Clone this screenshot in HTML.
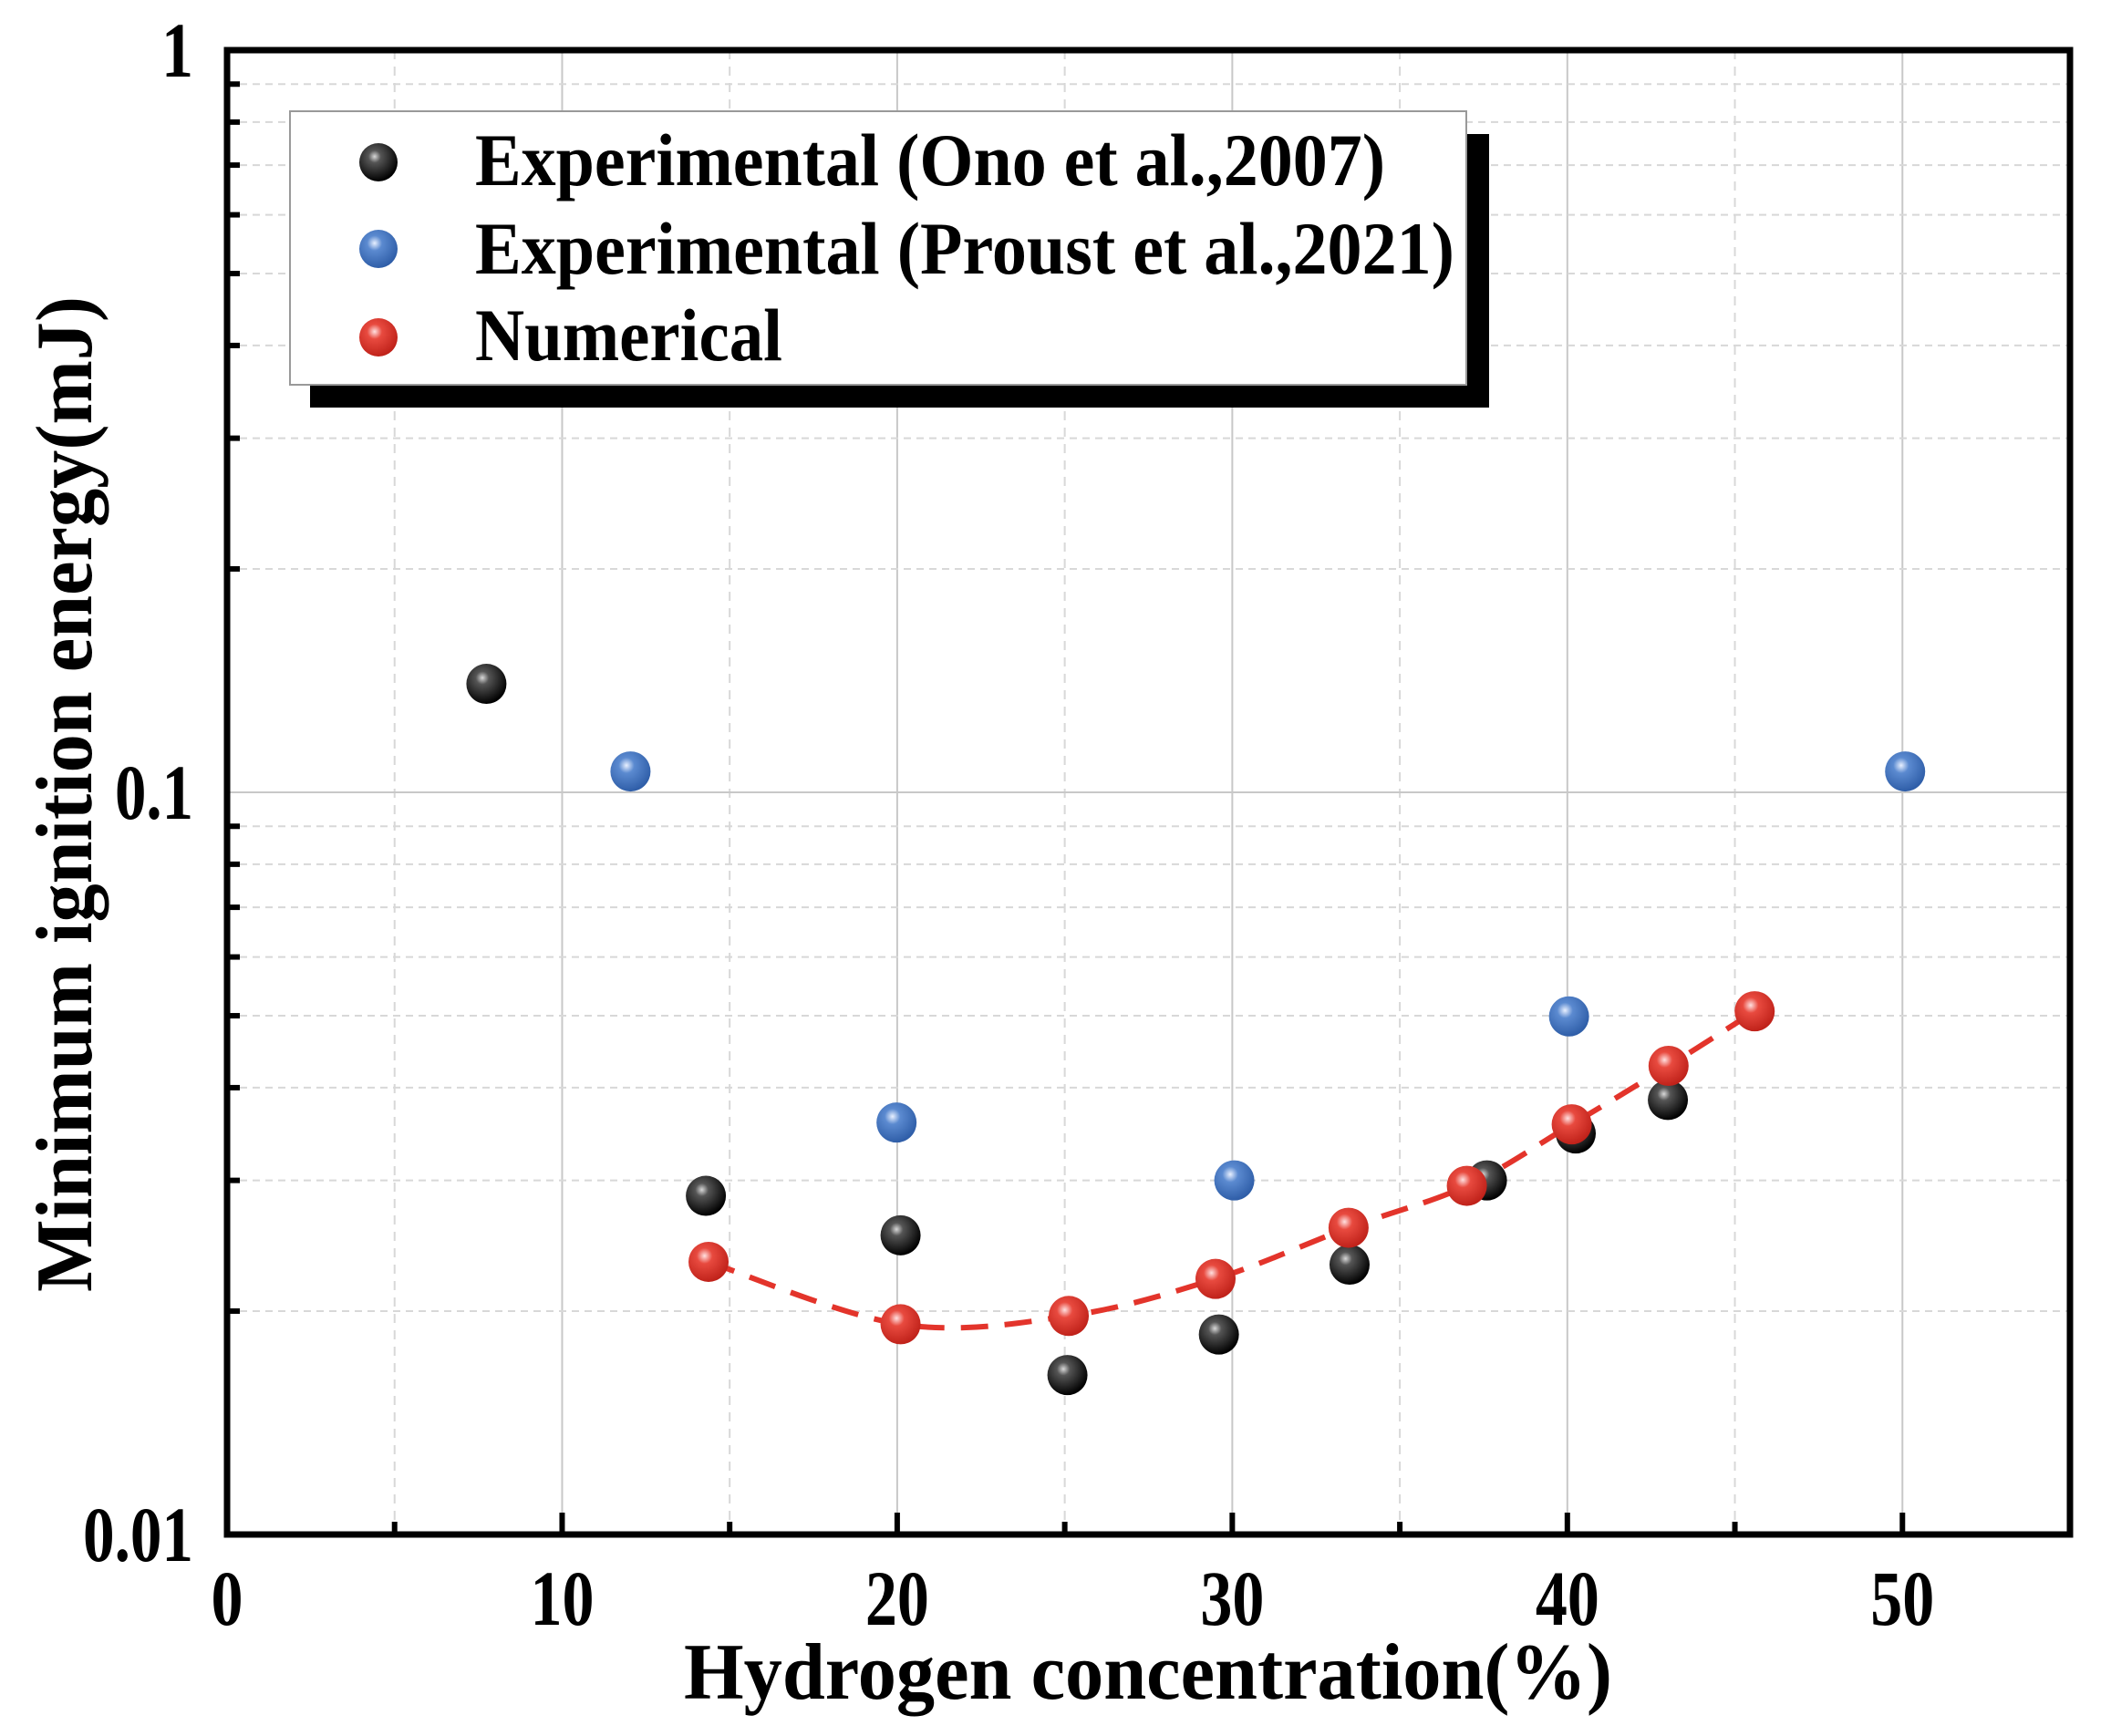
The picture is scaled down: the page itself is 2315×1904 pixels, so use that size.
<!DOCTYPE html>
<html><head><meta charset="utf-8"><style>
html,body{margin:0;padding:0;background:#fff;}
svg{display:block;}
text{font-family:"Liberation Serif","Times New Roman",serif;font-weight:bold;fill:#000;}
</style></head>
<body>
<svg id="chart" width="2315" height="1904" viewBox="0 0 2315 1904" xmlns="http://www.w3.org/2000/svg">
<defs>
<radialGradient id="gBlack" cx="0.4" cy="0.35" r="0.65"><stop offset="0" stop-color="#d8d8d8"/><stop offset="0.25" stop-color="#555"/><stop offset="1" stop-color="#000"/></radialGradient>
<radialGradient id="gBlue" cx="0.4" cy="0.35" r="0.65"><stop offset="0" stop-color="#e8f0ff"/><stop offset="0.3" stop-color="#5b8ad0"/><stop offset="1" stop-color="#2f5ea8"/></radialGradient>
<radialGradient id="gRed" cx="0.4" cy="0.35" r="0.65"><stop offset="0" stop-color="#ffe0e0"/><stop offset="0.3" stop-color="#e84a3f"/><stop offset="1" stop-color="#c0221a"/></radialGradient>
</defs>
<g id="grid"></g>
<g id="curve"></g>
<g id="points"></g>
<g id="axes"></g>
<g id="legend">
  <rect x="340" y="147" width="1293" height="300" fill="#000"/>
  <rect x="318" y="122" width="1290" height="300" fill="#fff" stroke="#999" stroke-width="2"/>
  <circle cx="415" cy="178" r="21" fill="url(#gBlack)"/>
  <text x="521" y="203" font-size="82" textLength="998" lengthAdjust="spacingAndGlyphs">Experimental (Ono et al.,2007)</text>
  <circle cx="415" cy="273" r="21" fill="url(#gBlue)"/>
  <text x="521" y="300" font-size="82" textLength="1074" lengthAdjust="spacingAndGlyphs">Experimental (Proust et al.,2021)</text>
  <circle cx="415" cy="370" r="21" fill="url(#gRed)"/>
  <text x="521" y="395" font-size="82" textLength="337" lengthAdjust="spacingAndGlyphs">Numerical</text>
</g>
<text x="1259" y="1863" font-size="88" text-anchor="middle" textLength="1018" lengthAdjust="spacingAndGlyphs">Hydrogen concentration(%)</text>
<text transform="translate(100,871) rotate(-90)" x="0" y="0" font-size="88" text-anchor="middle" textLength="1092" lengthAdjust="spacingAndGlyphs">Minimum ignition energy(mJ)</text>
</svg>
<script>
const onoX = [7.74, 14.29, 20.1, 25.08, 29.6, 33.5, 37.6, 40.25, 43.0];
const onoY = [0.140, 0.0286, 0.0253, 0.0164, 0.0186, 0.0231, 0.0300, 0.0347, 0.0385];
const proustX = [12.04, 19.98, 30.06, 40.05, 50.08];
const proustY = [0.1067, 0.0359, 0.0300, 0.0499, 0.1067];
const numX = [14.37, 20.1, 25.12, 29.5, 33.47, 37.0, 40.13, 43.02, 45.59];
const numY = [0.0233, 0.0192, 0.0197, 0.0221, 0.0259, 0.0295, 0.0357, 0.0428, 0.0507];
const xTicks = [0, 10, 20, 30, 40, 50];
const yTicks = [0.01, 0.1, 1];
const yTickLabels = ["0.01", "0.1", "1"];

const L = 249, R = 2270, T = 55, B = 1683;
const xMin = 0, xMax = 55;
function sx(v){ return L + (v - xMin) / (xMax - xMin) * (R - L); }
function sy(v){ return B - (Math.log10(v) + 2) / 2 * (B - T); }
const NS = "http://www.w3.org/2000/svg";
function mk(tag, attrs, parent){ const e = document.createElementNS(NS, tag); for (const k in attrs) e.setAttribute(k, attrs[k]); parent.appendChild(e); return e; }

const grid = document.getElementById('grid');
for (let v = 5; v < 55; v += 5) {
  const major = v % 10 === 0;
  const ln = mk('line', {x1: sx(v), x2: sx(v), y1: T, y2: B, stroke: major ? '#c8c8c8' : '#d8d8d8', 'stroke-width': 2, 'stroke-dasharray': major ? 'none' : '10 8'}, grid);
  
  
}
for (let d = 0.01; d < 1; d *= 10) {
  for (let m = 1; m < 10; m++) {
    const v = d * m; if (m === 1 && d === 0.01) continue;
    const major = m === 1;
    const ln = mk('line', {x1: L, x2: R, y1: sy(v), y2: sy(v), stroke: major ? '#c8c8c8' : '#d8d8d8', 'stroke-width': 2, 'stroke-dasharray': major ? 'none' : '8 6'}, grid);
    
    
  }
}

const cg = document.getElementById('curve');
const px = numX.map(sx), py = numY.map(sy);
let d = `M${px[0]},${py[0]}`;
for (let i = 0; i < px.length - 1; i++) {
  const x0 = px[Math.max(0,i-1)], y0 = py[Math.max(0,i-1)];
  const x1 = px[i], y1 = py[i], x2 = px[i+1], y2 = py[i+1];
  const x3 = px[Math.min(px.length-1,i+2)], y3 = py[Math.min(px.length-1,i+2)];
  d += ` C${x1+(x2-x0)/6},${y1+(y2-y0)/6} ${x2-(x3-x1)/6},${y2-(y3-y1)/6} ${x2},${y2}`;
}
const path = mk('path', {d: d, fill: 'none', stroke: '#e3342b', 'stroke-width': 6, 'stroke-dasharray': '30 18'}, cg);



const pg = document.getElementById('points');
function series(xs, ys, fill, name){
  for (let i = 0; i < xs.length; i++) {
    const c = mk('circle', {cx: sx(xs[i]), cy: sy(ys[i]), r: 22, fill: fill}, pg);
    
    
  }
}
series(onoX, onoY, 'url(#gBlack)', 'ono-point');
series(proustX, proustY, 'url(#gBlue)', 'proust-point');
series(numX, numY, 'url(#gRed)', 'numerical-point');

const ax = document.getElementById('axes');
const frame = mk('rect', {x: L, y: T, width: R - L, height: B - T, fill: 'none', stroke: '#000', 'stroke-width': 7}, ax);


for (let v = 5; v < 55; v += 5) {
  const len = v % 10 === 0 ? 24 : 14;
  const t = mk('line', {x1: sx(v), x2: sx(v), y1: B, y2: B - len, stroke: '#000', 'stroke-width': 6}, ax);
  
  
}
for (let dd = 0.01; dd < 1; dd *= 10) {
  for (let m = 2; m < 10; m++) {
    const t = mk('line', {x1: L, x2: L + 14, y1: sy(dd*m), y2: sy(dd*m), stroke: '#000', 'stroke-width': 6}, ax);
    
    
  }
}
xTicks.forEach(v => {
  const t = mk('text', {x: sx(v), y: 1782, 'font-size': 86, 'text-anchor': 'middle'}, ax);
  t.textContent = String(v);
  t.setAttribute('textLength', String(v).length * 35);
  t.setAttribute('lengthAdjust', 'spacingAndGlyphs');
  
  
});
yTicks.forEach((v, i) => {
  const lab = yTickLabels[i];
  const w = lab.replace('.', '').length * 35 + (lab.includes('.') ? 16 : 0);
  const t = mk('text', {x: 212 - w, y: sy(v) + 29, 'font-size': 86}, ax);
  t.textContent = lab;
  t.setAttribute('textLength', w);
  t.setAttribute('lengthAdjust', 'spacingAndGlyphs');
  
  
});
</script>
</body></html>
